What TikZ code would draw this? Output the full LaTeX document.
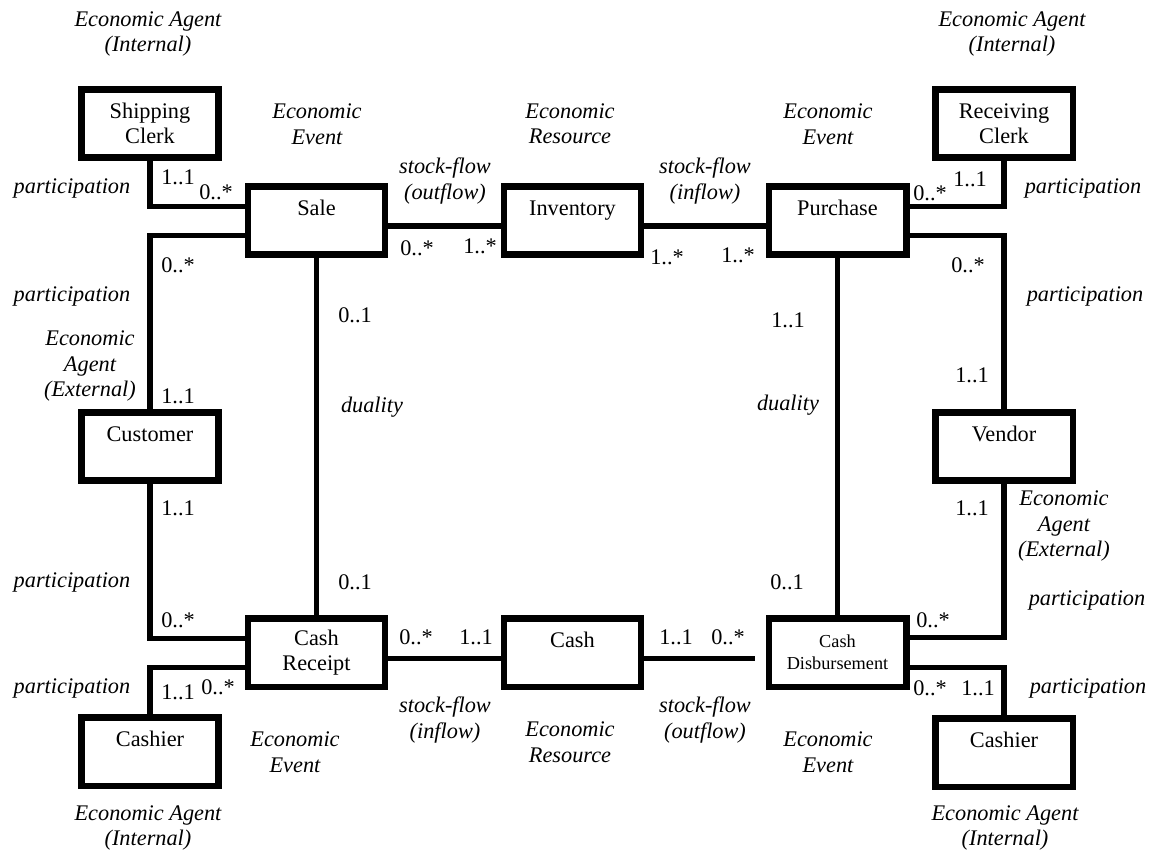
\documentclass[tikz,border=0pt]{standalone}
\usepackage{fontspec}
\setmainfont{Liberation Serif}
\usepackage{tikz}
\usetikzlibrary{calc, positioning}
\tikzset{
  % REA entity boxes, heavy black frame
  entity/.style={
    draw=black, fill=white, line width=3.7pt,
    minimum width=2.75cm, minimum height=1.37cm,
    font=\fontsize{12.7}{14.5}\selectfont, align=center,
    inner sep=2pt,
  },
  smallentity/.style={
    entity, font=\fontsize{10.4}{12.4}\selectfont,
  },
  % Relationship lines
  link/.style={line width=3.3pt, black},
  % Labels
  role/.style={font=\fontsize{12.7}{14.5}\selectfont\itshape, align=center},
  mult/.style={font=\fontsize{12.7}{14.5}\selectfont, inner sep=1pt},
}
\begin{document}
\begin{tikzpicture}[x=0.02cm, y=-0.02cm]
  \useasboundingbox (0,0) rectangle (1159,855);

  % entities
  \node[entity] (clerk1) at (150,123.5) {Shipping\\Clerk};
  \node[entity] (sale) at (316.5,220.5) {Sale\\~};
  \node[entity] (inv) at (572.5,220.5) {Inventory\\~};
  \node[entity] (pur) at (837.5,220.5) {Purchase\\~};
  \node[entity] (clerk2) at (1004,123.5) {Receiving\\Clerk};
  \node[entity] (cust) at (150,446.5) {Customer\\~};
  \node[entity] (vend) at (1004,446.5) {Vendor\\~};
  \node[entity] (rcpt) at (316.5,652.5) {Cash\\Receipt};
  \node[entity] (cash) at (572.5,652.5) {Cash\\~};
  \node[smallentity] (disb) at (837.5,652.5) {Cash\\Disbursement};
  \node[entity] (cashier1) at (150,751.5) {Cashier\\~};
  \node[entity] (cashier2) at (1004,752.5) {Cashier\\~};

  % relationships
  \draw[link] (clerk1.south) |- ($(sale.west)+(0,-14)$);
  \draw[link] ($(sale.west)+(0,15)$) -| (cust.north);
  \draw[link] (cust.south) |- ($(rcpt.west)+(0,-14)$);
  \draw[link] ($(rcpt.west)+(0,15)$) -| (cashier1.north);
  \draw[link] (sale.south) -- (rcpt.north);
  \draw[link] ($(sale.east)+(0,5.5)$) -- ($(inv.west)+(0,5.5)$);
  \draw[link] ($(inv.east)+(0,5.5)$) -- ($(pur.west)+(0,5.5)$);
  \draw[link] (clerk2.south) |- ($(pur.east)+(0,-14)$);
  \draw[link] ($(pur.east)+(0,15)$) -| (vend.north);
  \draw[link] (vend.south) |- ($(disb.east)+(0,-15)$);
  \draw[link] ($(disb.east)+(0,15)$) -| (cashier2.north);
  \draw[link] (pur.south) -- (disb.north);
  \draw[link] ($(rcpt.east)+(0,6)$) -- ($(cash.west)+(0,6)$);
  \coordinate (gap) at ($(disb.west)+(-11,6)$);
  \draw[link] ($(cash.east)+(0,6)$) -- (gap);

  % role labels
  \node[role] (t1) at (148,34) {Economic Agent\\(Internal)};
  \node[role] (t2) at (1012,34) {Economic Agent\\(Internal)};
  \node[role] (t3) at (317,124) {Economic\\Event};
  \node[role] (t4) at (828,124) {Economic\\Event};
  \node[role] (t5) at (570,124) {Economic\\Resource};
  \node[role] (t6) at (445,181) {stock-flow\\(outflow)};
  \node[role] (t7) at (705,181) {stock-flow\\(inflow)};
  \node[role] (t8) at (90,366) {Economic\\Agent\\(External)};
  \node[role] (t9) at (1064,526) {Economic\\Agent\\(External)};
  \node[role] (t10) at (445,720) {stock-flow\\(inflow)};
  \node[role] (t11) at (570,742) {Economic\\Resource};
  \node[role] (t12) at (705,720) {stock-flow\\(outflow)};
  \node[role] (t13) at (295,752) {Economic\\Event};
  \node[role] (t14) at (828,752) {Economic\\Event};
  \node[role] (t15) at (148,828) {Economic Agent\\(Internal)};
  \node[role] (t16) at (1005,828) {Economic Agent\\(Internal)};
  \node[role] (d1) at (372,407) {duality};
  \node[role] (d2) at (788,405) {duality};
  \foreach \x/\y/\n in {72/188/p1, 1083/188/p2, 72/296/p3, 1085/296/p4,
                        72/582/p5, 1087/600/p6, 72/688/p7, 1088/688/p8}
    \node[role] (\n) at (\x,\y) {participation};

  % multiplicities
  \foreach \x/\y/\t/\n in {
      178/177/1..1/m1, 216/192/0..*/m2, 930/193/0..*/m3, 970/179/1..1/m4,
      417/248/0..*/m5, 480/246/1..*/m6, 667/257/1..*/m7, 738/255/1..*/m8,
      178/265/0..*/m9, 968/265/0..*/m10, 355/315/0..1/m11, 788/320/1..1/m12,
      178/396/1..1/m13, 972/375/1..1/m14, 178/508/1..1/m15, 972/508/1..1/m16,
      355/582/0..1/m17, 787/582/0..1/m18, 178/620/0..*/m19, 933/620/0..*/m20,
      416/637/0..*/m21, 476/637/1..1/m22, 676/637/1..1/m23, 728/637/0..*/m24,
      178/692/1..1/m25, 218/687/0..*/m26, 930/688/0..*/m27, 978/688/1..1/m28}
    \node[mult] (\n) at (\x,\y) {\t};
\end{tikzpicture}
\end{document}
